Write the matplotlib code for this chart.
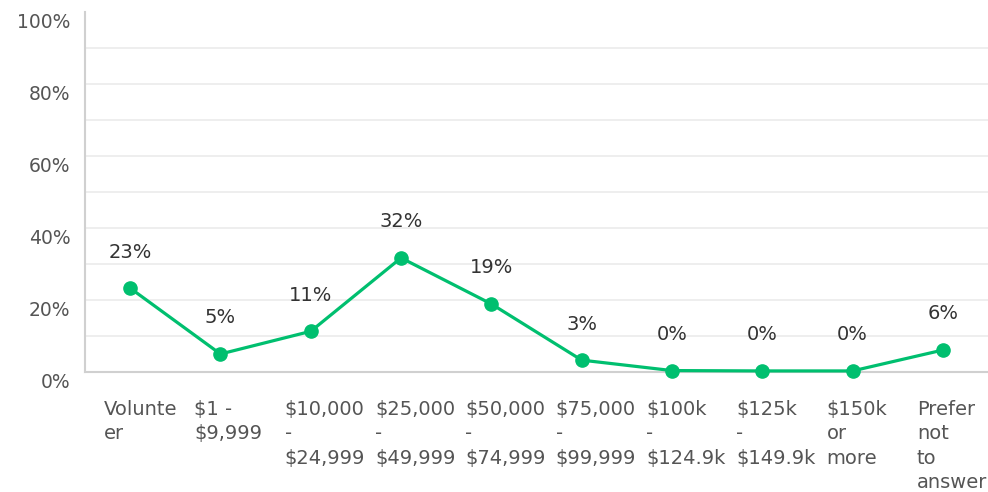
import matplotlib
matplotlib.use("Agg")
import matplotlib.pyplot as plt
import matplotlib.transforms as mtrans

categories = ["Volunte\ner", "$1 -\n$9,999", "$10,000\n-\n$24,999", "$25,000\n-\n$49,999",
              "$50,000\n-\n$74,999", "$75,000\n-\n$99,999", "$100k\n-\n$124.9k",
              "$125k\n-\n$149.9k", "$150k\nor\nmore", "Prefer\nnot\nto\nanswer"]
values = [23.3, 5.0, 11.3, 31.7, 18.9, 3.3, 0.4, 0.3, 0.3, 6.1]
value_labels = ["23%", "5%", "11%", "32%", "19%", "3%", "0%", "0%", "0%", "6%"]
yticks = [0, 20, 40, 60, 80, 100]
ytick_labels = ["0%", "20%", "40%", "60%", "80%", "100%"]

plt.rcParams['font.family'] = ['DejaVu Sans']
fig = plt.figure(figsize=(9.88, 4.92), dpi=100)
ax = fig.add_axes([85/988, 1-372/492, (988-85)/988, 360/492])

green = "#00BF6F"
x = list(range(len(categories)))
ax.plot(x, values, color=green, lw=2.3, marker='o', ms=9.5, zorder=3, clip_on=False)
for xi, v, lab in zip(x, values, value_labels):
    ax.annotate(lab, (xi, v), xytext=(0, 26), textcoords='offset points',
                ha='center', va='center', fontsize=14, color='#333333')

ax.set_xlim(-0.5, len(categories) - 0.5)
ax.set_ylim(0, 100)
ax.set_yticks(yticks)
ax.set_yticklabels(ytick_labels, fontsize=13.5, color='#555555')
ax.set_yticks(range(10, 100, 10), minor=True)
ax.grid(axis='y', which='both', color='#ebebeb', lw=1.2, zorder=0)
ax.yaxis.get_major_ticks()[-1].gridline.set_visible(False)
ax.set_axisbelow(True)
ax.tick_params(axis='y', which='both', length=0, pad=10.5)
yoff = mtrans.ScaledTranslation(0, -0.08, fig.dpi_scale_trans)
for t in ax.get_yticklabels():
    t.set_transform(t.get_transform() + yoff)

ax.set_xticks(x)
ax.set_xticklabels(categories, fontsize=14, color='#555555', ha='left',
                   va='top', linespacing=1.36)
ax.tick_params(axis='x', length=0, pad=20)
offset = mtrans.ScaledTranslation(-0.26, 0, fig.dpi_scale_trans)
for t in ax.get_xticklabels():
    t.set_transform(t.get_transform() + offset)

for s in ['top', 'right']:
    ax.spines[s].set_visible(False)
ax.spines['left'].set_color('#d0d0d0')
ax.spines['left'].set_linewidth(1.5)
ax.spines['bottom'].set_color('#d0d0d0')
ax.spines['bottom'].set_linewidth(1.5)

fig.savefig("out.png", dpi=100)
